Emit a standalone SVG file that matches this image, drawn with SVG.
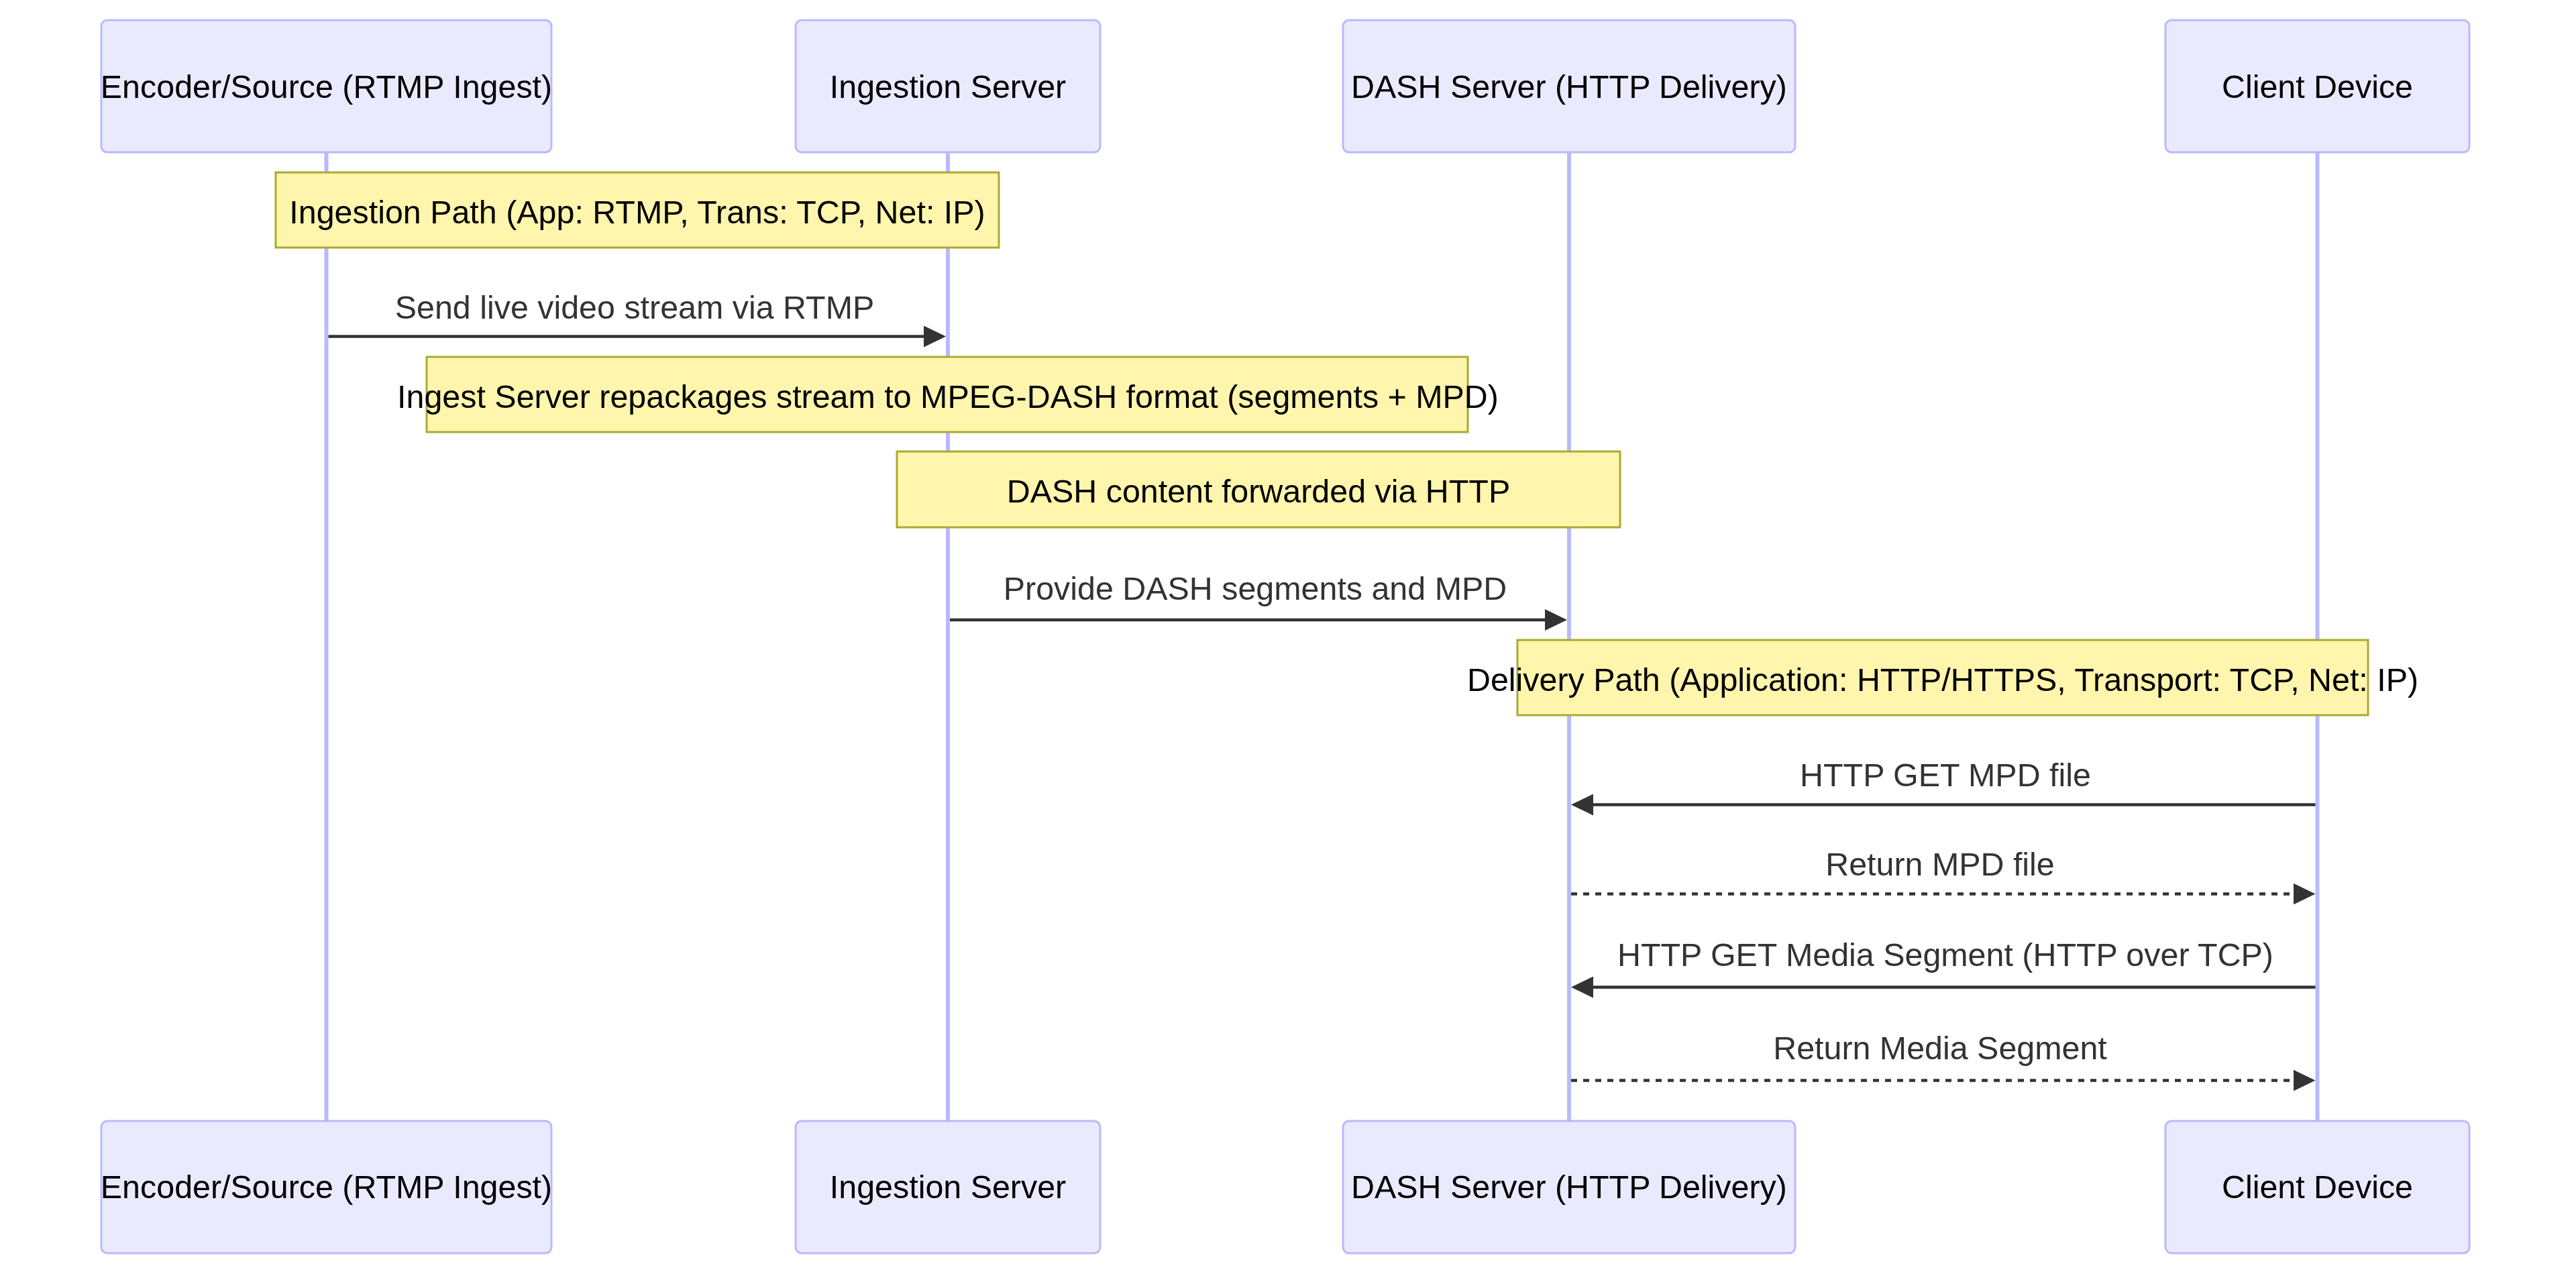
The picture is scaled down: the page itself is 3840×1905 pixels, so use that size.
<svg xmlns="http://www.w3.org/2000/svg" width="3840" height="1905" viewBox="0 0 3840 1905">
<style>
  text { font-family: "Liberation Sans", Arial, Helvetica, sans-serif; font-size: 48.4px; text-anchor: middle; }
  .actor { fill: #EAEAFF; stroke: #B9B9FF; stroke-width: 3; }
  .actor-text { fill: #000000; }
  .lifeline { stroke: #B9B9FF; stroke-width: 6; }
  .note { fill: #FFF5AD; stroke: #AAAA33; stroke-width: 3; }
  .note-text { fill: #000000; }
  .msg { stroke: #333333; stroke-width: 4.5; fill: none; marker-end: url(#arrow); }
  .dotted { stroke-dasharray: 9 9; }
  .msg-text { fill: #333333; }
</style>
<defs>
  <marker id="arrow" markerUnits="userSpaceOnUse" markerWidth="34" markerHeight="34" refX="23" refY="16" orient="auto">
    <path d="M0,0 L33,16 L0,32 z" fill="#333333"/>
  </marker>
</defs>
<rect width="3840" height="1905" fill="#FFFFFF"/>

<g id="lifelines">
  <line class="lifeline" x1="486.5" y1="227" x2="486.5" y2="1671"/>
  <line class="lifeline" x1="1413" y1="227" x2="1413" y2="1671"/>
  <line class="lifeline" x1="2339" y1="227" x2="2339" y2="1671"/>
  <line class="lifeline" x1="3454.5" y1="227" x2="3454.5" y2="1671"/>
</g>

<g id="actor-encoder-top">
  <rect class="actor" x="151" y="30" width="671" height="197" rx="9"/>
  <text class="actor-text" x="486.5" y="145.5">Encoder/Source (RTMP Ingest)</text>
</g>
<g id="actor-ingest-top">
  <rect class="actor" x="1186" y="30" width="454" height="197" rx="9"/>
  <text class="actor-text" x="1413" y="145.5">Ingestion Server</text>
</g>
<g id="actor-dash-top">
  <rect class="actor" x="2002" y="30" width="674" height="197" rx="9"/>
  <text class="actor-text" x="2339" y="145.5">DASH Server (HTTP Delivery)</text>
</g>
<g id="actor-client-top">
  <rect class="actor" x="3228" y="30" width="453" height="197" rx="9"/>
  <text class="actor-text" x="3454.5" y="145.5">Client Device</text>
</g>

<g id="actor-encoder-bottom">
  <rect class="actor" x="151" y="1671" width="671" height="197" rx="9"/>
  <text class="actor-text" x="486.5" y="1786">Encoder/Source (RTMP Ingest)</text>
</g>
<g id="actor-ingest-bottom">
  <rect class="actor" x="1186" y="1671" width="454" height="197" rx="9"/>
  <text class="actor-text" x="1413" y="1786">Ingestion Server</text>
</g>
<g id="actor-dash-bottom">
  <rect class="actor" x="2002" y="1671" width="674" height="197" rx="9"/>
  <text class="actor-text" x="2339" y="1786">DASH Server (HTTP Delivery)</text>
</g>
<g id="actor-client-bottom">
  <rect class="actor" x="3228" y="1671" width="453" height="197" rx="9"/>
  <text class="actor-text" x="3454.5" y="1786">Client Device</text>
</g>

<g id="note-ingestion-path">
  <rect class="note" x="411" y="257" width="1078" height="112"/>
  <text class="note-text" x="950" y="333">Ingestion Path (App: RTMP, Trans: TCP, Net: IP)</text>
</g>
<g id="note-repackage">
  <rect class="note" x="636" y="532" width="1552" height="112"/>
  <text class="note-text" x="1413" y="608">Ingest Server repackages stream to MPEG-DASH format (segments + MPD)</text>
</g>
<g id="note-forward">
  <rect class="note" x="1337" y="673" width="1078" height="113"/>
  <text class="note-text" x="1876" y="749">DASH content forwarded via HTTP</text>
</g>
<g id="note-delivery-path">
  <rect class="note" x="2262" y="954" width="1268" height="112"/>
  <text class="note-text" x="2896" y="1030">Delivery Path (Application: HTTP/HTTPS, Transport: TCP, Net: IP)</text>
</g>

<g id="messages">
  <line class="msg" x1="489.5" y1="501.5" x2="1400" y2="501.5"/>
  <text class="msg-text" x="946" y="475">Send live video stream via RTMP</text>

  <line class="msg" x1="1416" y1="924" x2="2326" y2="924"/>
  <text class="msg-text" x="1871" y="894">Provide DASH segments and MPD</text>

  <line class="msg" x1="3451.5" y1="1199.5" x2="2352" y2="1199.5"/>
  <text class="msg-text" x="2900" y="1172">HTTP GET MPD file</text>

  <line class="msg dotted" x1="2342" y1="1332.5" x2="3441.5" y2="1332.5"/>
  <text class="msg-text" x="2892" y="1305">Return MPD file</text>

  <line class="msg" x1="3451.5" y1="1471.5" x2="2352" y2="1471.5"/>
  <text class="msg-text" x="2900" y="1440">HTTP GET Media Segment (HTTP over TCP)</text>

  <line class="msg dotted" x1="2342" y1="1610.5" x2="3441.5" y2="1610.5"/>
  <text class="msg-text" x="2892" y="1579">Return Media Segment</text>
</g>
</svg>
